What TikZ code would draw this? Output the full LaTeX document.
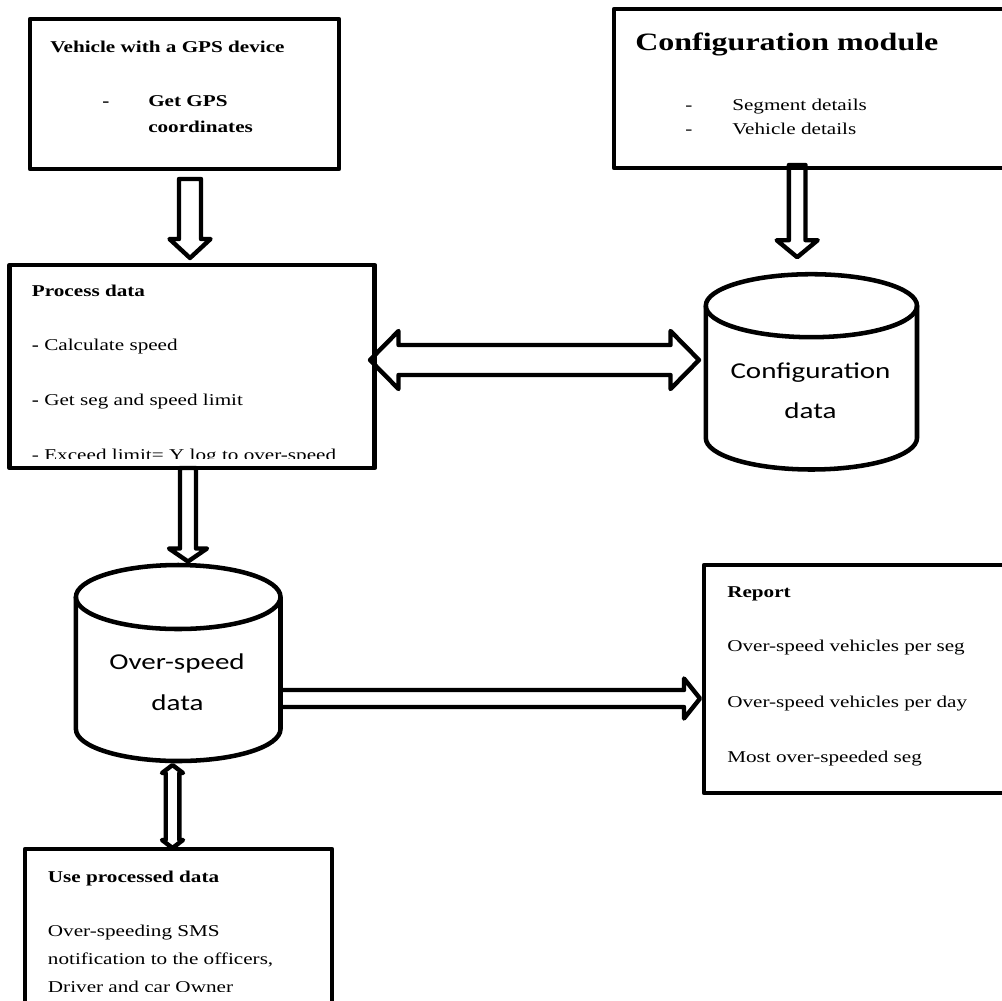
\documentclass[tikz,border=0pt]{standalone}
\usepackage{fontspec}
\setmainfont{Liberation Serif}
\newfontfamily\calibrifont{Carlito}
\usepackage{graphicx}
\usetikzlibrary{calc}

% horizontally widened text
\newcommand\wide[1]{\scalebox{1.28}[1]{#1}}

% block arrow pointing down: start, tip, shaft half-width, head half-width, head length
\newcommand\arrowdown[5]{%
  \draw[blockarrow] ($(#1)+(-#3,0)$) -- ($(#2)+(-#3,-#5)$) -- ($(#2)+(-#4,-#5)$) -- (#2)
    -- ($(#2)+(#4,-#5)$) -- ($(#2)+(#3,-#5)$) -- ($(#1)+(#3,0)$) -- cycle;}
% block arrow pointing right
\newcommand\arrowright[5]{%
  \draw[blockarrow] ($(#1)+(0,-#3)$) -- ($(#2)+(-#5,-#3)$) -- ($(#2)+(-#5,-#4)$) -- (#2)
    -- ($(#2)+(-#5,#4)$) -- ($(#2)+(-#5,#3)$) -- ($(#1)+(0,#3)$);}
% two-headed horizontal block arrow: left tip, right tip, ...
\newcommand\arrowboth[5]{%
  \draw[blockarrow] (#1) -- ($(#1)+(#5,-#4)$) -- ($(#1)+(#5,-#3)$) -- ($(#2)+(-#5,-#3)$)
    -- ($(#2)+(-#5,-#4)$) -- (#2) -- ($(#2)+(-#5,#4)$) -- ($(#2)+(-#5,#3)$)
    -- ($(#1)+(#5,#3)$) -- ($(#1)+(#5,#4)$) -- cycle;}
% two-headed vertical block arrow: top tip, bottom tip, ...
\newcommand\arrowupdown[5]{%
  \draw[blockarrow] (#1) -- ($(#1)+(#4,#5)$) -- ($(#1)+(#3,#5)$) -- ($(#2)+(#3,-#5)$)
    -- ($(#2)+(#4,-#5)$) -- (#2) -- ($(#2)+(-#4,-#5)$) -- ($(#2)+(-#3,-#5)$)
    -- ($(#1)+(-#3,#5)$) -- ($(#1)+(-#4,#5)$) -- cycle;}
% database drum: centre x, top ellipse y, bottom arc y, x radius, y radius
\newcommand\drum[5]{%
  \draw[drumline] (#1,#2) ellipse[x radius=#4, y radius=#5];
  \draw[drumline] ({#1-#4},#2) -- ({#1-#4},#3)
    arc[start angle=180, end angle=0, x radius=#4, y radius=#5] -- ({#1+#4},#2);}

\tikzset{
  box/.style={draw, rectangle, line width=3.4pt, line join=round, inner sep=0pt,
    outer sep=0pt, anchor=north west},
  boxsize/.style 2 args={minimum width=#1*0.75pt, minimum height=#2*0.75pt},
  drumbox/.style={rectangle, inner sep=0pt, outer sep=0pt},
  blockarrow/.style={line width=3.3pt, line join=round},
  drumline/.style={line width=3.4pt},
  txt/.style={anchor=base west, inner sep=0pt, font=\fontsize{12.4}{14}\selectfont},
  bold/.style={txt, font=\fontsize{12.4}{14}\selectfont\bfseries},
  bigbold/.style={txt, font=\fontsize{18.75}{22}\selectfont\bfseries},
  drumtxt/.style={anchor=base, inner sep=0pt, font=\fontsize{17}{20}\calibrifont},
}

\begin{document}
\begin{tikzpicture}[x=0.75pt, y=-0.75pt]
\clip (0,0) rectangle (1002,1000);
\fill[white] (0,0) rectangle (1002,1000);

% ---- boxes ----
\node[box, boxsize={309}{150}] (gps) at (30,19) {};
\node[box, boxsize={416}{159}] (cfgmod) at (614,9) {};
\node[box, boxsize={365.2}{203}] (proc) at (9.5,265) {};
\node[box, boxsize={326}{228}] (report) at (704,565) {};
\node[box, boxsize={307}{181}] (use) at (25,849) {};

% ---- database drums ----
\drum{811.4}{305.7}{438}{105.6}{31.5}
\node[drumbox, boxsize={211.2}{195.3}] (cfgdata) at (811.4,371.85) {};
\drum{178.2}{597}{729}{102.3}{32}
\node[drumbox, boxsize={204.6}{196}] (osdata) at (178.2,663) {};

% ---- texts ----
\node[bold] (gpsT) at (50,52) {\wide{Vehicle with a GPS device}};
\node[bold] (gpsD) at (102,106) {\wide{-}};
\node[bold] (gpsL1) at (148,106) {\wide{Get GPS}};
\node[bold] (gpsL2) at (148,132) {\wide{coordinates}};

\node[bigbold] (cfgT) at (635,50) {\wide{Configuration module}};
\node[txt] (cfgD1) at (685,110) {\wide{-}};
\node[txt] (cfgL1) at (732,110) {\wide{Segment details}};
\node[txt] (cfgD2) at (685,134) {\wide{-}};
\node[txt] (cfgL2) at (732,134) {\wide{Vehicle details}};

\begin{scope}
  \clip (proc.north west) rectangle ($(proc.south east)+(0,-10)$);
  \node[bold] (procT) at (31.7,296) {\wide{Process data}};
  \node[txt] (procL1) at (31.7,350) {\wide{\textbf{-} Calculate speed}};
  \node[txt] (procL2) at (31.7,405) {\wide{\textbf{-} Get seg and speed limit}};
  \node[txt] (procL3) at (31.7,460) {\wide{- Exceed limit= Y log to over-speed}};
\end{scope}

\node[drumtxt] (cfgdataL1) at (810.5,378) {\wide{Configuration}};
\node[drumtxt] (cfgdataL2) at (810.5,418) {\wide{data}};
\node[drumtxt] (osdataL1) at (177,669) {\wide{Over-speed}};
\node[drumtxt] (osdataL2) at (177.5,710) {\wide{data}};

\node[bold] (repT) at (727,597) {\wide{Report}};
\node[txt] (repL1) at (727,651) {\wide{Over-speed vehicles per seg}};
\node[txt] (repL2) at (727,707) {\wide{Over-speed vehicles per day}};
\node[txt] (repL3) at (727,762) {\wide{Most over-speeded seg}};

\begin{scope}
  \clip (use.north west) rectangle ($(use.north east)+(0,142)$);
  \node[bold] (useT) at (47.7,882) {\wide{Use processed data}};
  \node[txt] (useL1) at (47.7,936) {\wide{Over-speeding SMS}};
  \node[txt] (useL2) at (47.7,964) {\wide{notification to the officers,}};
  \node[txt] (useL3) at (47.7,992) {\wide{Driver and car Owner}};
\end{scope}

% ---- connectors ----
\coordinate (col1) at (190,0);
\coordinate (col2) at (797.2,0);
\coordinate (col3) at (188,0);
\coordinate (col5) at (172.5,0);
\coordinate (row4) at (0,698.5);
\coordinate (row6) at (0,360);

\coordinate (a1s) at ($(col1 |- gps.south)+(0,10)$);
\coordinate (a1t) at ($(col1 |- proc.north)+(0,-7)$);
\arrowdown{a1s}{a1t}{11}{20.5}{19}

\coordinate (a2s) at ($(col2 |- cfgmod.south)+(0,-3)$);
\coordinate (a2t) at ($(col2 |- cfgdata.north)+(0,-17)$);
\arrowdown{a2s}{a2t}{8.3}{20.5}{17}

\coordinate (a3s) at (col3 |- proc.south);
\coordinate (a3t) at ($(col3 |- osdata.north)+(0,-3.5)$);
\arrowdown{a3s}{a3t}{8}{19}{13}

\coordinate (a4s) at (osdata.east |- row4);
\coordinate (a4t) at ($(report.west |- row4)+(-4,0)$);
\arrowright{a4s}{a4t}{8.5}{20}{16}

\coordinate (a5t) at ($(col5 |- osdata.south)+(0,4)$);
\coordinate (a5b) at ($(col5 |- use.north)+(0,-1)$);
\arrowupdown{a5t}{a5b}{6.8}{10.5}{8}

\coordinate (a6l) at ($(proc.east |- row6)+(-4.7,0)$);
\coordinate (a6r) at ($(cfgdata.west |- row6)+(-6.8,0)$);
\arrowboth{a6l}{a6r}{15}{29}{28.5}
\end{tikzpicture}
\end{document}
